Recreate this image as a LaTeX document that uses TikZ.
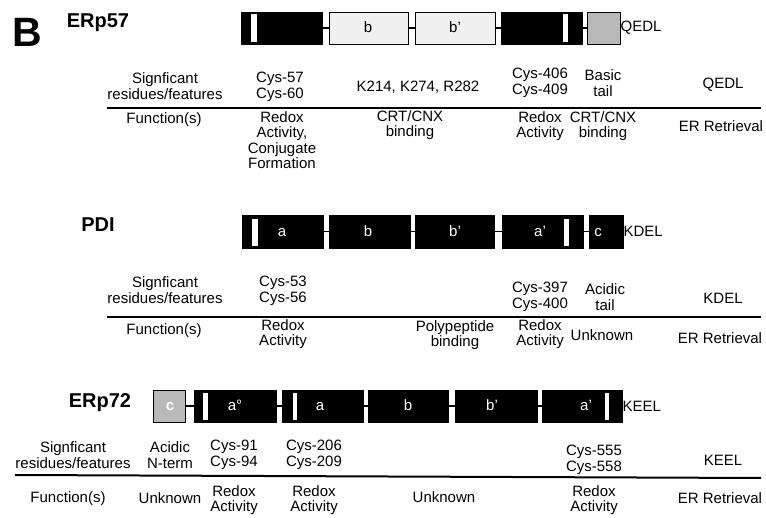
\documentclass[tikz,border=0pt]{standalone}
\usepackage{fontspec}
\setmainfont{Liberation Sans}
\begin{document}
\begin{tikzpicture}[x=1pt,y=-1pt,
  txt/.style={font=\fontsize{15}{15.5}\selectfont, align=center, inner sep=0pt},
  ttl/.style={font=\fontsize{20}{22}\selectfont\bfseries, inner sep=0pt},
  dom/.style={draw=black, line width=0.8pt, inner sep=0pt, minimum height=32pt},
  dbox/.style={dom, fill=black},
  lbox/.style={dom, fill=gray!12},
  gbox/.style={dom, fill=gray!55},
  blab/.style={font=\fontsize{15}{15}\selectfont, inner sep=0pt, anchor=base, text=white},
  conn/.style={line width=1.5pt},
  rulel/.style={line width=2pt},
  wbar/.style={fill=white}
]
\useasboundingbox (0,0) rectangle (766,518);

% ---------------- ERp57 ----------------
\node[font=\fontsize{41}{41}\selectfont\bfseries, inner sep=0pt] (B) at (27,32) {B};
\node[ttl] (t1) at (98,23) {ERp57};
\node[dbox, minimum width=81pt] (e1) at (281.5,28) {};
\node[lbox, minimum width=79pt] (e2) at (368.5,28) {};
\node[lbox, minimum width=80pt] (e3) at (455,28) {};
\node[dbox, minimum width=81pt] (e4) at (541.5,28) {};
\node[gbox, minimum width=33pt] (e5) at (603.5,28) {};
\fill[wbar] (251,14) rectangle (257,42);
\fill[wbar] (563,14) rectangle (568,42);
\node[blab, text=black] (le2) at (368,33) {b};
\node[blab, text=black] (le3) at (455,33) {b'};
\draw[conn] (e1.east) -- (e2.west);
\draw[conn] (e2.east) -- (e3.west);
\draw[conn] (e3.east) -- (e4.west);
\draw[conn] (e4.east) -- (e5.west);
\node[txt, anchor=west] (q1) at (e5.east) {QEDL};

\node[txt] (s1) at (165,86) {Signficant\\residues/features};
\node[txt] (c57) at (280,87) {Cys-57\\Cys-60};
\node[txt] (k214) at (418,87) {K214, K274, R282};
\node[txt] (c406) at (540,83) {Cys-406\\Cys-409};
\node[txt] (bas) at (603,83) {Basic\\tail};
\node[txt] (qe) at (723,85) {QEDL};
\draw[rulel] (107,108.5) -- (761,108.5);
\node[txt] (f1) at (164,120) {Function(s)};
\node[txt] (r57) at (282,140) {Redox\\Activity,\\Conjugate\\Formation};
\node[txt] (crt1) at (410,125) {CRT/CNX\\binding};
\node[txt] (r406) at (540,126) {Redox\\Activity};
\node[txt] (crt2) at (603,126) {CRT/CNX\\binding};
\node[txt] (er1) at (721,126) {ER Retrieval};

% ---------------- PDI ----------------
\node[ttl] (t2) at (98,225) {PDI};
\node[dbox, minimum width=81pt, minimum height=33pt] (p1) at (282.5,231.5) {};
\node[dbox, minimum width=81pt, minimum height=33pt] (p2) at (369.5,231.5) {};
\node[dbox, minimum width=79pt, minimum height=33pt] (p3) at (454.5,231.5) {};
\node[dbox, minimum width=81pt, minimum height=33pt] (p4) at (542.5,231.5) {};
\node[dbox, minimum width=34pt, minimum height=33pt] (p5) at (606,231.5) {};
\fill[wbar] (252,219) rectangle (258,246);
\fill[wbar] (564,219) rectangle (569,246);
\node[blab] (lp1) at (282,236.5) {a};
\node[blab] (lp2) at (368,236.5) {b};
\node[blab] (lp3) at (455,236.5) {b'};
\node[blab] (lp4) at (540,236.5) {a'};
\node[blab] (lp5) at (598,236.5) {c};
\draw[conn] (p1.east) -- (p2.west);
\draw[conn] (p2.east) -- (p3.west);
\draw[conn] (p3.east) -- (p4.west);
\draw[conn] (p4.east) -- (p5.west);
\node[txt, anchor=west] (k1) at (p5.east) {KDEL};

\node[txt] (s2) at (165,290) {Signficant\\residues/features};
\node[txt] (c53) at (283,291) {Cys-53\\Cys-56};
\node[txt] (c397) at (540,297) {Cys-397\\Cys-400};
\node[txt] (acd) at (605,297) {Acidic\\tail};
\node[txt] (kd) at (723,298) {KDEL};
\draw[rulel] (107,317) -- (761,317);
\node[txt] (f2) at (164,331) {Function(s)};
\node[txt] (r53) at (283,334) {Redox\\Activity};
\node[txt] (poly) at (455,335) {Polypeptide\\binding};
\node[txt] (r397) at (540,334) {Redox\\Activity};
\node[txt] (unk1) at (602,335) {Unknown};
\node[txt] (er2) at (720,338) {ER Retrieval};

% ---------------- ERp72 ----------------
\node[ttl] (t3) at (100,403) {ERp72};
\node[gbox, minimum width=32pt] (r1) at (169,406) {};
\node[dbox, minimum width=82pt] (r2) at (235,406) {};
\node[dbox, minimum width=81pt] (r3) at (322.5,406) {};
\node[dbox, minimum width=80pt] (r4) at (408,406) {};
\node[dbox, minimum width=82pt] (r5) at (496,406) {};
\node[dbox, minimum width=80pt] (r6) at (582,406) {};
\fill[wbar] (203,393) rectangle (208,420);
\fill[wbar] (293,393) rectangle (297,420);
\fill[wbar] (605,393) rectangle (609,420);
\node[blab, font=\fontsize{15}{15}\selectfont\bfseries] (lr1) at (170,411) {c};
\node[blab] (lr2) at (235,411) {a°};
\node[blab] (lr3) at (320,411) {a};
\node[blab] (lr4) at (408,411) {b};
\node[blab] (lr5) at (492,411) {b'};
\node[blab] (lr6) at (586,411) {a'};
\draw[conn] (r1.east) -- (r2.west);
\draw[conn] (r2.east) -- (r3.west);
\draw[conn] (r3.east) -- (r4.west);
\draw[conn] (r4.east) -- (r5.west);
\draw[conn] (r5.east) -- (r6.west);
\node[txt, anchor=west] (k2) at (r6.east) {KEEL};

\node[txt] (s3) at (73,455) {Signficant\\residues/features};
\node[txt] (acd2) at (170,455) {Acidic\\N-term};
\node[txt] (c91) at (234,455) {Cys-91\\Cys-94};
\node[txt] (c206) at (314,455) {Cys-206\\Cys-209};
\node[txt] (c555) at (594,460) {Cys-555\\Cys-558};
\node[txt] (ke) at (723,460) {KEEL};
\draw[rulel] (15,475) -- (761,478);
\node[txt] (f3) at (68,499) {Function(s)};
\node[txt] (unk2) at (170,498) {Unknown};
\node[txt] (r91) at (234,500) {Redox\\Activity};
\node[txt] (r206) at (314,500) {Redox\\Activity};
\node[txt] (unk3) at (444,497) {Unknown};
\node[txt] (r555) at (594,500) {Redox\\Activity};
\node[txt] (er3) at (720,498) {ER Retrieval};
\end{tikzpicture}
\end{document}
